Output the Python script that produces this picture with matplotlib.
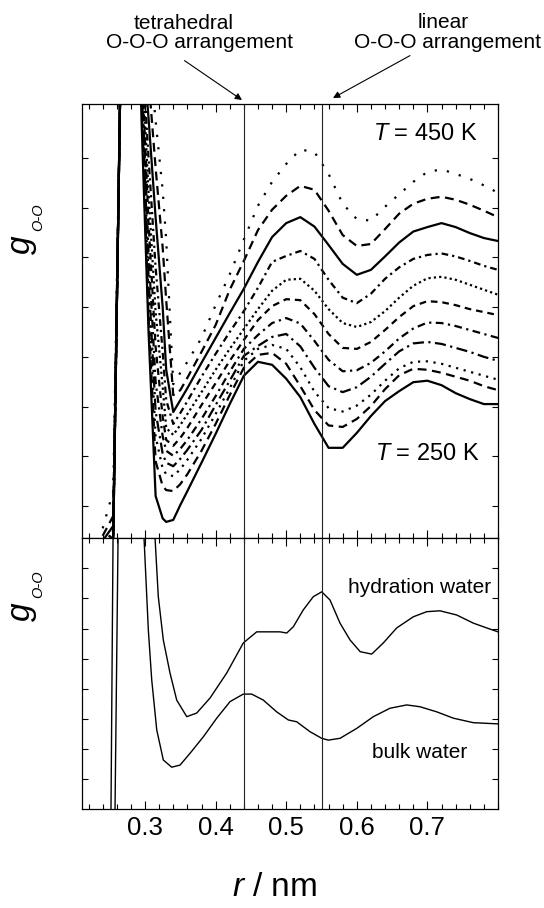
import matplotlib
matplotlib.use("Agg")
import matplotlib.pyplot as plt
from matplotlib.ticker import FixedLocator

plt.rcParams['font.family'] = ['Liberation Sans', 'DejaVu Sans']
plt.rcParams['mathtext.fontset'] = 'custom'
plt.rcParams['mathtext.rm'] = 'Liberation Sans'
plt.rcParams['mathtext.it'] = 'Liberation Sans:italic'

# ---------------- data ----------------
temps = [450, 430, 410, 390, 370, 350, 330, 310, 290, 270, 250]

r_head = [0.24, 0.255, 0.265, 0.28, 0.295, 0.305, 0.315, 0.325]
r_grid = [0.33, 0.34, 0.35, 0.36, 0.38, 0.40, 0.42, 0.44, 0.46, 0.48, 0.50,
          0.52, 0.54, 0.56, 0.58, 0.60, 0.62, 0.64, 0.66, 0.68, 0.70, 0.72,
          0.74, 0.76, 0.78, 0.80]

g_head_450 = [-0.45, 0.3, 8.5, 14.0, 10.0, 9.3, 7.75, 6.35]
g_head_430 = [-0.6, -0.2, 8.5, 14.5, 9.8, 8.6, 6.8, 5.2]
g_head_410 = [-0.7, -0.4, 8.5, 15.0, 9.6, 7.8, 5.8, 4.0]
g_head_390 = [-0.8, -0.5, 8.5, 15.0, 9.4, 7.0, 4.8, 3.1]
g_head_370 = [-0.8, -0.55, 8.5, 15.5, 9.2, 6.3, 3.9, 2.4]
g_head_350 = [-0.9, -0.6, 8.5, 15.5, 9.0, 5.7, 3.2, 1.8]
g_head_330 = [-0.9, -0.6, 8.5, 16.0, 8.8, 5.1, 2.5, 1.4]
g_head_310 = [-1.0, -0.6, 8.5, 16.0, 8.6, 4.6, 1.9, 1.05]
g_head_290 = [-1.0, -0.6, 8.5, 16.0, 8.4, 4.2, 1.4, 0.75]
g_head_270 = [-1.0, -0.65, 8.5, 16.5, 8.2, 3.8, 0.9, 0.4]
g_head_250 = [-1.0, -0.7, 8.5, 17.0, 7.8, 3.5, 0.2, -0.25]

g_450 = [5.35, 2.45, 2.68, 2.90, 3.38, 4.04, 4.66, 5.36, 6.04, 6.52, 6.88, 7.17, 7.12,
         6.68, 6.08, 5.77, 5.74, 6.02, 6.27, 6.52, 6.72, 6.77, 6.68, 6.58, 6.45, 6.30]
g_430 = [4.14, 2.23, 2.33, 2.58, 3.10, 3.64, 4.35, 4.93, 5.55, 5.96, 6.24, 6.44, 6.36,
         5.94, 5.45, 5.23, 5.27, 5.57, 5.88, 6.08, 6.18, 6.22, 6.16, 6.06, 5.94, 5.81]
g_410 = [2.74, 1.89, 2.13, 2.37, 2.88, 3.38, 3.88, 4.37, 4.91, 5.41, 5.69, 5.81, 5.62,
         5.25, 4.87, 4.65, 4.75, 5.02, 5.30, 5.52, 5.61, 5.69, 5.61, 5.49, 5.39, 5.33]
g_390 = [2.13, 1.65, 1.87, 2.11, 2.60, 3.06, 3.50, 3.92, 4.39, 4.91, 5.03, 5.13, 4.97,
         4.55, 4.19, 4.08, 4.27, 4.57, 4.80, 4.97, 5.05, 5.08, 5.02, 4.93, 4.83, 4.75]
g_370 = [1.57, 1.43, 1.63, 1.85, 2.29, 2.74, 3.16, 3.56, 3.96, 4.33, 4.55, 4.57, 4.33,
         3.96, 3.68, 3.60, 3.70, 3.92, 4.19, 4.43, 4.58, 4.61, 4.55, 4.45, 4.35, 4.25]
g_350 = [1.33, 1.21, 1.37, 1.57, 2.03, 2.47, 2.92, 3.34, 3.74, 4.02, 4.16, 4.14, 3.86,
         3.46, 3.18, 3.16, 3.30, 3.54, 3.80, 4.02, 4.12, 4.10, 4.04, 3.96, 3.90, 3.84]
g_330 = [1.11, 1.01, 1.15, 1.33, 1.75, 2.21, 2.70, 3.16, 3.44, 3.68, 3.78, 3.67, 3.32,
         2.94, 2.71, 2.73, 2.88, 3.11, 3.37, 3.57, 3.69, 3.68, 3.62, 3.54, 3.46, 3.38]
g_310 = [0.87, 0.80, 0.95, 1.13, 1.53, 2.03, 2.52, 3.02, 3.22, 3.40, 3.46, 3.21, 2.78,
         2.41, 2.29, 2.39, 2.60, 2.86, 3.11, 3.27, 3.30, 3.26, 3.18, 3.10, 3.00, 2.92]
g_290 = [0.64, 0.60, 0.74, 0.93, 1.35, 1.85, 2.37, 2.92, 3.16, 3.24, 3.16, 2.79, 2.30,
         1.97, 1.90, 2.02, 2.24, 2.52, 2.77, 2.90, 2.91, 2.86, 2.78, 2.70, 2.62, 2.54]
g_270 = [0.32, 0.30, 0.44, 0.64, 1.11, 1.65, 2.23, 2.78, 3.04, 3.08, 2.86, 2.41, 1.93,
         1.62, 1.59, 1.75, 2.01, 2.35, 2.63, 2.76, 2.74, 2.68, 2.60, 2.52, 2.41, 2.33]
g_250 = [-0.32, -0.28, 0.02, 0.30, 0.87, 1.45, 2.05, 2.62, 2.90, 2.84, 2.56, 2.19, 1.65,
         1.17, 1.17, 1.47, 1.81, 2.11, 2.31, 2.49, 2.52, 2.43, 2.27, 2.15, 2.05, 2.05]

heads = [g_head_450, g_head_430, g_head_410, g_head_390, g_head_370, g_head_350,
         g_head_330, g_head_310, g_head_290, g_head_270, g_head_250]
bodies = [g_450, g_430, g_410, g_390, g_370, g_350, g_330, g_310, g_290, g_270, g_250]

r_hyd = [0.245, 0.2518, 0.2547, 0.27, 0.3142, 0.3188, 0.3259, 0.3354, 0.3449, 0.3591,
         0.3732, 0.3921, 0.4157, 0.4392, 0.4582, 0.4771, 0.4912, 0.5007, 0.5101, 0.5242,
         0.5384, 0.5503, 0.562, 0.5762, 0.5904, 0.6048, 0.6211, 0.6375, 0.6565, 0.68,
         0.699, 0.7178, 0.7415, 0.765, 0.784, 0.80]
g_hyd = [-3, 0, 9, 20, 9.01, 7.06, 5.62, 4.52, 3.62, 3.07, 3.19, 3.69, 4.52, 5.52, 5.89,
         5.89, 5.89, 5.85, 6.06, 6.62, 7.06, 7.22, 6.95, 6.18, 5.62, 5.23, 5.15, 5.52,
         6.02, 6.39, 6.56, 6.59, 6.45, 6.18, 6.02, 5.89]

r_bulk = [0.25, 0.2575, 0.2618, 0.275, 0.2986, 0.3047, 0.3095, 0.3166, 0.3259, 0.3378,
          0.3496, 0.3637, 0.3826, 0.4016, 0.4204, 0.4392, 0.4511, 0.4676, 0.4865, 0.503,
          0.5149, 0.5337, 0.5503, 0.5596, 0.5762, 0.5999, 0.6234, 0.647, 0.6707, 0.6895,
          0.7132, 0.7367, 0.765, 0.80]
g_bulk = [-3, 0, 9, 20, 9.0, 5.95, 4.29, 2.63, 1.63, 1.39, 1.46, 1.85, 2.40, 3.02, 3.57,
          3.82, 3.82, 3.62, 3.23, 2.96, 2.90, 2.57, 2.35, 2.29, 2.35, 2.68, 3.07, 3.35,
          3.46, 3.40, 3.23, 3.02, 2.87, 2.83]

r_tetra = 0.44
r_linear = 0.55
x_major = [0.3, 0.4, 0.5, 0.6, 0.7]
x_major_labels = ['0.3', '0.4', '0.5', '0.6', '0.7']

# ---------------- figure ----------------
W, H = 544, 908
fig = plt.figure(figsize=(W / 100, H / 100), dpi=100)


def fx(px):
    return px / W


def fy(py):
    return 1 - py / H


L, R = 81.7, 498.0
ax_top = fig.add_axes([fx(L), fy(538.3), fx(R) - fx(L), fy(104.3) - fy(538.3)])
ax_bot = fig.add_axes([fx(L), fy(809.0), fx(R) - fx(L), fy(538.3) - fy(809.0)])

dash_styles = [
    (0, (1.0, 4.6)),            # 450 sparse dots
    (0, (4.0, 2.5)),            # 430 dashed
    '-',                        # 410 solid
    (0, (3.0, 1.8, 1.0, 1.8)),  # 390 dash-dot
    (0, (1.0, 1.4)),            # 370 dense dots
    (0, (3.0, 2.2)),            # 350 dashed
    (0, (3.5, 2.0, 1.0, 2.0)),  # 330 dash-dot
    (0, (5.0, 2.0, 1.0, 2.0)),  # 310 long dash-dot
    (0, (1.0, 2.5)),            # 290 dots
    (0, (4.0, 2.5)),            # 270 dashed
    '-',                        # 250 solid
]

for T, gh, gb, ls in zip(temps, heads, bodies, dash_styles):
    ax_top.plot(r_head + r_grid, gh + gb, color='black', lw=1.6, linestyle=ls,
                solid_joinstyle='round')

ax_bot.plot(r_hyd, g_hyd, color='black', lw=1.0)
ax_bot.plot(r_bulk, g_bulk, color='black', lw=1.0)

for ax in (ax_top, ax_bot):
    ax.axvline(r_tetra, color='#222222', lw=0.8)
    ax.axvline(r_linear, color='#222222', lw=0.8)
    ax.set_xlim(0.2103, 0.80)
    ax.set_xticks(x_major)
    minors = [round(0.22 + 0.02 * i, 2) for i in range(30)]
    minors = [m for m in minors if all(abs(m - M) > 1e-6 for M in x_major)]
    ax.xaxis.set_minor_locator(FixedLocator(minors))
    ax.tick_params(which='both', direction='in', top=True, right=True,
                   bottom=True, left=True, width=0.8)
    ax.tick_params(axis='x', which='major', length=6)
    ax.tick_params(axis='x', which='minor', length=3.5)
    ax.tick_params(axis='y', which='major', length=4)
    for s in ax.spines.values():
        s.set_linewidth(0.9)

ax_top.set_ylim(-0.65, 8.08)
ax_top.set_yticks(range(0, 8))
ax_top.set_yticklabels([])
ax_top.set_xticklabels([])

ax_bot.set_ylim(0, 9)
ax_bot.set_yticks(range(1, 9))
ax_bot.set_yticklabels([])
ax_bot.set_xticklabels(x_major_labels)
ax_bot.tick_params(axis='x', which='major', labelsize=18.5, pad=5)

# axis labels
fig.text(fx(274.5), fy(896), r'$r$ / nm', fontsize=24, ha='center', va='baseline')
for gc, sc in ((245, 217), (612, 584)):
    fig.text(fx(30), fy(gc), r'$g$', fontsize=24, rotation=90,
             rotation_mode='anchor', ha='center', va='baseline')
    fig.text(fx(42), fy(sc), 'O-O', fontsize=10.5, style='italic', rotation=90,
             rotation_mode='anchor', ha='center', va='baseline')

# panel texts
fig.text(fx(373), fy(140), r'$T$ = 450 K', fontsize=17, ha='left', va='baseline')
fig.text(fx(375), fy(460), r'$T$ = 250 K', fontsize=17, ha='left', va='baseline')
fig.text(fx(348), fy(593), 'hydration water', fontsize=15, ha='left', va='baseline')
fig.text(fx(372), fy(758), 'bulk water', fontsize=15, ha='left', va='baseline')

# top annotations
fig.text(fx(184), fy(28.6), 'tetrahedral', fontsize=15, ha='center', va='baseline')
fig.text(fx(199), fy(48.1), 'O-O-O arrangement', fontsize=15, ha='center', va='baseline')
fig.text(fx(443), fy(27.5), 'linear', fontsize=15, ha='center', va='baseline')
fig.text(fx(447.5), fy(48), 'O-O-O arrangement', fontsize=15, ha='center', va='baseline')

arrow_kw = dict(arrowstyle='-|>', lw=0.8, color='black', mutation_scale=10,
                shrinkA=0, shrinkB=0)
ax_top.annotate('', xy=(fx(242), fy(100)), xytext=(fx(184.5), fy(60.6)),
                xycoords='figure fraction', textcoords='figure fraction',
                arrowprops=arrow_kw, annotation_clip=False)
ax_top.annotate('', xy=(fx(333), fy(98)), xytext=(fx(410), fy(55.6)),
                xycoords='figure fraction', textcoords='figure fraction',
                arrowprops=arrow_kw, annotation_clip=False)

fig.savefig('out.png', dpi=100)
